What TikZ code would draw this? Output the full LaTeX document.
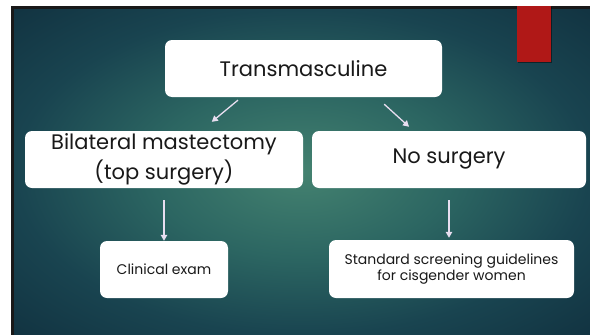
\documentclass[tikz,border=0pt]{standalone}
\usepackage{fontspec}
\setmainfont{Poppins}
\usetikzlibrary{arrows.meta}

\definecolor{bgin}{RGB}{68,130,112}
\definecolor{bgmid}{RGB}{44,102,98}
\definecolor{bgout}{RGB}{25,68,80}
\definecolor{bgcorner}{RGB}{18,52,66}
\definecolor{slidered}{RGB}{176,24,23}
\definecolor{arrowc}{RGB}{232,222,240}

\pgfdeclareradialshading{slidebg}{\pgfpoint{0bp}{0bp}}{color(0bp)=(bgin); color(13bp)=(bgmid); color(25bp)=(bgout); color(35bp)=(bgcorner); color(60bp)=(bgcorner)}

\tikzset{
  box/.style={fill=white, rounded corners=7pt, inner sep=0pt, align=center, text=black!90},
  bigtext/.style={font=\fontsize{21}{30}\selectfont},
  smalltext/.style={font=\fontsize{14}{15.5}\selectfont},
  arr/.style={draw=arrowc, line width=1.3pt, -{Triangle[width=6.5pt,length=6pt]}}
}

\begin{document}
\begin{tikzpicture}[x=1pt,y=1pt,yscale=-1,xscale=1]
\useasboundingbox (0,0) rectangle (590,335);

%Shape: slide background
\fill [black!90] (11,6) rectangle (590,335);
\shade [shading=slidebg] (14,9) rectangle (590,335);

%Shape: red tab
\fill [black, opacity=0.45] (518,7) rectangle (552,63);
\fill [slidered] (517,6) rectangle (551,62);

% Text Node
\node [box, bigtext, minimum width=277pt, minimum height=57pt] (trans) at (303.5,68.5) {Transmasculine};
% Text Node
\node [box, bigtext, minimum width=278pt, minimum height=57pt] (bilat) at (164,159.5) {Bilateral mastectomy\\(top surgery)};
% Text Node
\node [box, bigtext, minimum width=274pt, minimum height=57pt] (nosurg) at (449,159.5) {No surgery};
% Text Node
\node [box, smalltext, minimum width=128pt, minimum height=57pt] (exam) at (164,269.5) {Clinical exam};
% Text Node
\node [box, smalltext, minimum width=245pt, minimum height=58pt] (screen) at (451.5,269) {Standard screening guidelines\\for cisgender women};

%Straight Lines
\draw [arr, shorten <=4.6pt, shorten >=14pt] ([xshift=-62pt]trans.south) -- ([xshift=37pt]bilat.north);
%Straight Lines
\draw [arr, shorten <=10.4pt, shorten >=6pt] ([xshift=73pt]trans.south) -- ([xshift=-35.5pt]nosurg.north);
%Straight Lines
\draw [arr, shorten <=12pt] (bilat.south) -- (exam.north);
%Straight Lines
\draw [arr, shorten <=12pt, shorten >=2pt] (nosurg.south) -- ([xshift=-2.5pt]screen.north);

\end{tikzpicture}
\end{document}
